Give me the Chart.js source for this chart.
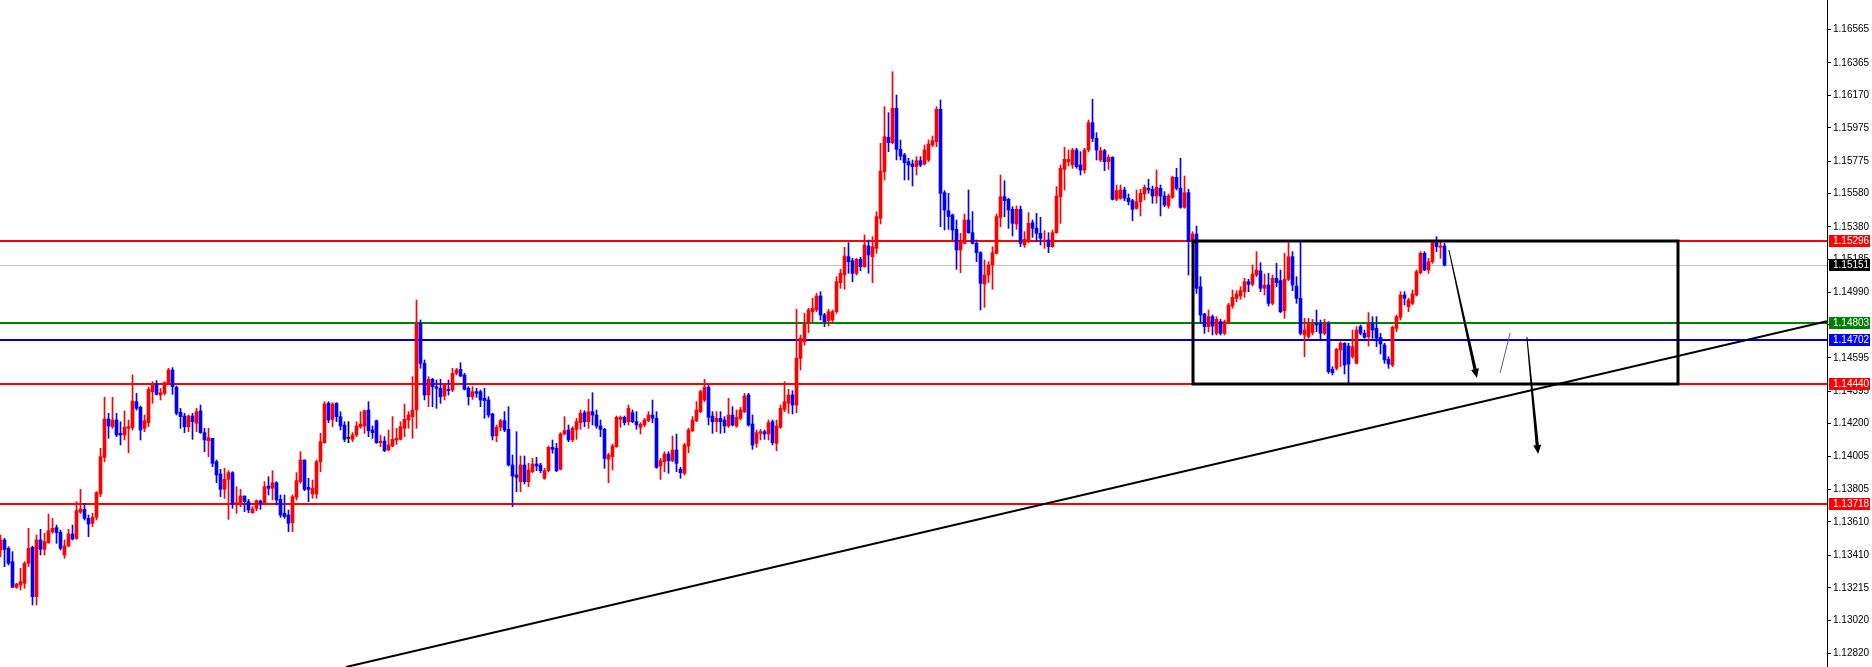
<!DOCTYPE html>
<html>
<head>
<meta charset="utf-8">
<script src="https://cdn.jsdelivr.net/npm/chart.js@4.4.0/dist/chart.umd.min.js"></script>
<style>
  html, body { margin: 0; padding: 0; background: #fff; }
  canvas { display: block; }
</style>
</head>
<body>
<canvas id="priceChart" width="1872" height="667"></canvas>
<script>
// OHLC, one candle per bar, oldest first
const opens = [
  1.13442,1.13502,1.13452,1.13372,1.13218,1.13232,1.13242,1.13362,1.13458,1.13162,
  1.13502,1.13446,1.13486,1.13552,1.13576,1.13548,1.13412,1.13466,1.13538,1.13512,
  1.13668,1.13686,1.13632,1.13602,1.13638,1.13778,1.13998,1.14228,1.14182,1.14222,
  1.14142,1.14132,1.14172,1.14176,1.14332,1.14298,1.14172,1.14206,1.14392,1.14438,
  1.14372,1.14382,1.14442,1.14522,1.14418,1.14268,1.14246,1.14182,1.14246,1.14202,
  1.14276,1.14146,1.14098,1.14112,1.13972,1.13898,1.13806,1.13866,1.13906,1.13718,
  1.13726,1.13766,1.13732,1.13666,1.13692,1.13736,1.13726,1.13826,1.13812,1.13846,
  1.13746,1.13662,1.13652,1.13606,1.13758,1.13852,1.13982,1.13818,1.13778,1.13778,
  1.13972,1.14086,1.14322,1.14226,1.14322,1.14242,1.14192,1.14112,1.14106,1.14132,
  1.14182,1.14186,1.14282,1.14162,1.14218,1.14086,1.14096,1.14042,1.14066,1.14102,
  1.14106,1.14172,1.14222,1.14242,1.14282,1.14802,1.14562,1.14372,1.14466,1.14422,
  1.14412,1.14366,1.14406,1.14402,1.14502,1.14526,1.14492,1.14412,1.14362,1.14392,
  1.14392,1.14352,1.14342,1.14258,1.14128,1.14178,1.14218,1.14166,1.13952,1.13892,
  1.13852,1.13952,1.13852,1.13912,1.13958,1.13952,1.13872,1.13918,1.14058,1.14052,
  1.13926,1.14138,1.14162,1.14102,1.14166,1.14206,1.14266,1.14212,1.14272,1.14252,
  1.14186,1.14166,1.13986,1.14002,1.14062,1.14226,1.14238,1.14212,1.14266,1.14212,
  1.14178,1.14192,1.14218,1.14252,1.14232,1.13946,1.13972,1.14018,1.13978,1.14042,
  1.13926,1.13902,1.14066,1.14158,1.14218,1.14272,1.14342,1.14418,1.14246,1.14212,
  1.14232,1.14222,1.14186,1.14252,1.14186,1.14232,1.14272,1.14372,1.14198,1.14082,
  1.14142,1.14152,1.14138,1.14212,1.14082,1.14178,1.14286,1.14322,1.14372,1.14312,
  1.14592,1.14692,1.14812,1.14872,1.14882,1.14966,1.14852,1.14818,1.14822,1.14872,
  1.15046,1.15092,1.15202,1.15178,1.15102,1.15186,1.15142,1.15266,1.15202,1.15252,
  1.15432,1.15712,1.15918,1.15886,1.16092,1.15846,1.15812,1.15772,1.15758,1.15742,
  1.15778,1.15758,1.15782,1.15872,1.15892,1.16086,1.15586,1.15478,1.15452,1.15366,
  1.15242,1.15282,1.15422,1.15346,1.15282,1.15226,1.15038,1.15092,1.15152,1.15222,
  1.15438,1.15562,1.15546,1.15486,1.15398,1.15486,1.15272,1.15292,1.15406,1.15372,
  1.15342,1.15292,1.15302,1.15262,1.15346,1.15562,1.15726,1.15772,1.15752,1.15842,
  1.15752,1.15722,1.15842,1.16006,1.15912,1.15782,1.15838,1.15772,1.15798,1.15546,
  1.15552,1.15602,1.15552,1.15538,1.15492,1.15532,1.15578,1.15612,1.15606,1.15566,
  1.15612,1.15566,1.15506,1.15558,1.15678,1.15612,1.15498,1.15586,1.15292,1.15338,
  1.15022,1.14858,1.14782,1.14842,1.14742,1.14812,1.14742,1.14812,1.14906,1.14952,
  1.14966,1.14992,1.15052,1.15036,1.15092,1.15116,1.15012,1.15032,1.14922,1.15072,
  1.15058,1.14878,1.15066,1.15202,1.15026,1.14952,1.14732,1.14722,1.14746,1.14802,
  1.14798,1.14742,1.14798,1.14526,1.14532,1.14642,1.14682,1.14666,1.14602,1.14562,
  1.14782,1.14742,1.14722,1.14798,1.14772,1.14718,1.14672,1.14586,1.14552,1.14772,
  1.14838,1.14972,1.14902,1.14922,1.14972,1.15106,1.15222,1.15122,1.15172,1.15286,
  1.15258,1.15266
];
const highs = [
  1.13532,1.13512,1.13462,1.13432,1.13242,1.13332,1.13372,1.13572,1.13466,1.13532,
  1.13566,1.13542,1.13658,1.13632,1.13592,1.13562,1.13502,1.13566,1.13592,1.13732,
  1.13806,1.13722,1.13652,1.13662,1.13792,1.14052,1.14358,1.14262,1.14358,1.14262,
  1.14212,1.14276,1.14222,1.14492,1.14382,1.14306,1.14252,1.14418,1.14452,1.14458,
  1.14412,1.14452,1.14532,1.14536,1.14426,1.14292,1.14262,1.14252,1.14262,1.14292,
  1.14312,1.14172,1.14172,1.14112,1.13982,1.13926,1.13932,1.13918,1.13912,1.13822,
  1.13806,1.13766,1.13746,1.13702,1.13742,1.13742,1.13852,1.13882,1.13918,1.13852,
  1.13772,1.13772,1.13682,1.13772,1.13906,1.14032,1.13982,1.13872,1.13862,1.13982,
  1.14142,1.14332,1.14332,1.14326,1.14326,1.14272,1.14212,1.14212,1.14146,1.14212,
  1.14272,1.14282,1.14332,1.14186,1.14222,1.14132,1.14122,1.14162,1.14242,1.14172,
  1.14212,1.14318,1.14272,1.14482,1.14942,1.14822,1.14582,1.14482,1.14472,1.14462,
  1.14466,1.14442,1.14462,1.14532,1.14532,1.14566,1.14502,1.14422,1.14422,1.14412,
  1.14402,1.14412,1.14362,1.14262,1.14192,1.14226,1.14272,1.14302,1.14012,1.14152,
  1.14006,1.14006,1.13962,1.13992,1.13998,1.13962,1.13932,1.14066,1.14102,1.14082,
  1.14146,1.14242,1.14192,1.14182,1.14232,1.14282,1.14278,1.14346,1.14386,1.14282,
  1.14222,1.14172,1.14022,1.14078,1.14246,1.14246,1.14246,1.14312,1.14282,1.14272,
  1.14206,1.14232,1.14272,1.14342,1.14272,1.13992,1.14032,1.14032,1.14126,1.14138,
  1.13938,1.14082,1.14172,1.14242,1.14332,1.14402,1.14466,1.14432,1.14272,1.14272,
  1.14272,1.14242,1.14352,1.14302,1.14282,1.14298,1.14382,1.14382,1.14252,1.14162,
  1.14166,1.14162,1.14222,1.14222,1.14222,1.14312,1.14452,1.14406,1.14398,1.14886,
  1.14732,1.14862,1.14892,1.14952,1.14982,1.14992,1.14862,1.14886,1.14882,1.15082,
  1.15126,1.15258,1.15286,1.15192,1.15192,1.15198,1.15332,1.15302,1.15322,1.15472,
  1.15882,1.16102,1.16066,1.16312,1.16172,1.15902,1.15822,1.15792,1.15782,1.15802,
  1.15802,1.15872,1.15902,1.15926,1.16102,1.16142,1.15598,1.15582,1.15458,1.15422,
  1.15342,1.15458,1.15602,1.15472,1.15302,1.15232,1.15182,1.15172,1.15262,1.15458,
  1.15692,1.15658,1.15552,1.15502,1.15506,1.15506,1.15352,1.15466,1.15422,1.15462,
  1.15438,1.15358,1.15346,1.15362,1.15622,1.15752,1.15858,1.15842,1.15852,1.15852,
  1.15832,1.15852,1.16022,1.16146,1.15946,1.15858,1.15846,1.15812,1.15802,1.15632,
  1.15632,1.15618,1.15578,1.15546,1.15602,1.15606,1.15632,1.15666,1.15626,1.15722,
  1.15632,1.15592,1.15578,1.15686,1.15732,1.15792,1.15686,1.15606,1.15352,1.15386,
  1.15082,1.14862,1.14882,1.14852,1.14842,1.14826,1.14822,1.14922,1.15002,1.14998,
  1.15022,1.15072,1.15066,1.15152,1.15232,1.15166,1.15098,1.15102,1.15092,1.15162,
  1.15122,1.15222,1.15286,1.15232,1.15082,1.15292,1.14832,1.14832,1.14826,1.14882,
  1.14822,1.14826,1.14812,1.14542,1.14652,1.14692,1.14686,1.14682,1.14762,1.14782,
  1.14792,1.14762,1.14866,1.14842,1.14842,1.14742,1.14682,1.14602,1.14786,1.14852,
  1.14992,1.14992,1.14952,1.15002,1.15122,1.15232,1.15232,1.15192,1.15298,1.15322,
  1.15292,1.15282
];
const lows = [
  1.13402,1.13342,1.13352,1.13218,1.13212,1.13202,1.13212,1.13342,1.13112,1.13112,
  1.13412,1.13412,1.13482,1.13542,1.13482,1.13442,1.13392,1.13462,1.13502,1.13506,
  1.13662,1.13622,1.13522,1.13582,1.13622,1.13762,1.13972,1.14112,1.14172,1.14122,
  1.14072,1.14102,1.14026,1.14162,1.14282,1.14102,1.14152,1.14182,1.14322,1.14372,
  1.14342,1.14372,1.14432,1.14376,1.14252,1.14172,1.14146,1.14152,1.14106,1.14152,
  1.14142,1.14032,1.14002,1.13942,1.13846,1.13762,1.13752,1.13626,1.13692,1.13662,
  1.13702,1.13672,1.13666,1.13662,1.13678,1.13686,1.13718,1.13772,1.13742,1.13712,
  1.13638,1.13632,1.13552,1.13552,1.13742,1.13842,1.13798,1.13732,1.13752,1.13752,
  1.13912,1.14082,1.14206,1.14182,1.14212,1.14162,1.14092,1.14086,1.14092,1.14122,
  1.14172,1.14142,1.14122,1.14112,1.14082,1.14062,1.14032,1.14038,1.14062,1.14076,
  1.14102,1.14122,1.14172,1.14112,1.14172,1.14532,1.14342,1.14302,1.14302,1.14292,
  1.14322,1.14342,1.14372,1.14392,1.14492,1.14482,1.14402,1.14312,1.14346,1.14358,
  1.14302,1.14232,1.14238,1.14102,1.14092,1.14158,1.14152,1.13946,1.13702,1.13792,
  1.13792,1.13838,1.13822,1.13906,1.13918,1.13906,1.13866,1.13912,1.14022,1.13912,
  1.13922,1.14132,1.14092,1.14092,1.14106,1.14166,1.14182,1.14172,1.14192,1.14172,
  1.14122,1.13932,1.13846,1.13922,1.14058,1.14178,1.14192,1.14192,1.14206,1.14166,
  1.14138,1.14182,1.14212,1.14206,1.13932,1.13866,1.13912,1.13902,1.13972,1.13912,
  1.13872,1.13892,1.14026,1.14152,1.14212,1.14266,1.14332,1.14192,1.14142,1.14152,
  1.14142,1.14146,1.14178,1.14186,1.14178,1.14222,1.14266,1.14186,1.14046,1.14058,
  1.14102,1.14106,1.14102,1.14072,1.14038,1.14172,1.14272,1.14262,1.14258,1.14266,
  1.14522,1.14672,1.14746,1.14812,1.14872,1.14822,1.14782,1.14786,1.14802,1.14862,
  1.15012,1.15006,1.15102,1.15052,1.15092,1.15118,1.15138,1.15102,1.15046,1.15222,
  1.15398,1.15662,1.15832,1.15878,1.15782,1.15782,1.15662,1.15662,1.15626,1.15692,
  1.15742,1.15752,1.15772,1.15862,1.15862,1.15382,1.15362,1.15366,1.15302,1.15126,
  1.15106,1.15278,1.15342,1.15278,1.15172,1.14882,1.14898,1.15046,1.15006,1.15218,
  1.15382,1.15442,1.15372,1.15326,1.15366,1.15262,1.15258,1.15286,1.15318,1.15292,
  1.15272,1.15252,1.15226,1.15258,1.15342,1.15402,1.15602,1.15746,1.15732,1.15732,
  1.15692,1.15702,1.15832,1.15892,1.15782,1.15772,1.15718,1.15726,1.15542,1.15538,
  1.15546,1.15538,1.15512,1.15418,1.15486,1.15446,1.15542,1.15582,1.15522,1.15522,
  1.15446,1.15502,1.15492,1.15552,1.15602,1.15492,1.15492,1.15092,1.15278,1.14982,
  1.14802,1.14742,1.14752,1.14732,1.14732,1.14732,1.14732,1.14798,1.14892,1.14932,
  1.14946,1.14958,1.14992,1.15026,1.15082,1.14992,1.14972,1.14906,1.14912,1.15022,
  1.14866,1.14832,1.15058,1.14998,1.14922,1.14732,1.14602,1.14712,1.14732,1.14752,
  1.14706,1.14732,1.14502,1.14492,1.14522,1.14542,1.14498,1.14446,1.14592,1.14558,
  1.14732,1.14712,1.14666,1.14712,1.14662,1.14618,1.14562,1.14532,1.14542,1.14752,
  1.14822,1.14912,1.14872,1.14912,1.14966,1.15098,1.15118,1.15102,1.15162,1.15232,
  1.15192,1.15146
];
const closes = [
  1.13502,1.13446,1.13362,1.13218,1.13238,1.13252,1.13362,1.13452,1.13162,1.13502,
  1.13446,1.13492,1.13558,1.13572,1.13546,1.13452,1.13466,1.13538,1.13508,1.13678,
  1.13688,1.13632,1.13598,1.13638,1.13786,1.14002,1.14228,1.14186,1.14222,1.14132,
  1.14132,1.14178,1.14182,1.14336,1.14292,1.14162,1.14218,1.14406,1.14436,1.14376,
  1.14386,1.14446,1.14522,1.14422,1.14262,1.14242,1.14182,1.14246,1.14212,1.14272,
  1.14146,1.14102,1.14116,1.13962,1.13892,1.13806,1.13866,1.13906,1.13718,1.13726,
  1.13766,1.13732,1.13682,1.13688,1.13738,1.13722,1.13822,1.13812,1.13846,1.13742,
  1.13652,1.13642,1.13602,1.13762,1.13858,1.13982,1.13806,1.13806,1.13812,1.13972,
  1.14092,1.14318,1.14222,1.14318,1.14242,1.14186,1.14106,1.14112,1.14132,1.14186,
  1.14198,1.14278,1.14158,1.14146,1.14086,1.14094,1.14038,1.14072,1.14106,1.14112,
  1.14182,1.14226,1.14252,1.14282,1.14802,1.14562,1.14372,1.14466,1.14422,1.14412,
  1.14362,1.14442,1.14398,1.14502,1.14522,1.14486,1.14406,1.14362,1.14392,1.14382,
  1.14342,1.14338,1.14252,1.14126,1.14178,1.14218,1.14162,1.13952,1.13886,1.13878,
  1.13952,1.13852,1.13922,1.13958,1.13946,1.13918,1.13918,1.14058,1.14046,1.13918,
  1.14138,1.14158,1.14102,1.14172,1.14212,1.14262,1.14212,1.14272,1.14252,1.14186,
  1.14166,1.13992,1.14012,1.14066,1.14238,1.14238,1.14206,1.14292,1.14212,1.14192,
  1.14196,1.14222,1.14252,1.14232,1.13938,1.13978,1.14018,1.13978,1.14042,1.13962,
  1.13906,1.14072,1.14162,1.14222,1.14282,1.14392,1.14418,1.14238,1.14212,1.14232,
  1.14212,1.14186,1.14252,1.14192,1.14238,1.14282,1.14366,1.14192,1.14072,1.14146,
  1.14152,1.14138,1.14206,1.14086,1.14186,1.14292,1.14332,1.14372,1.14312,1.14592,
  1.14712,1.14802,1.14882,1.14892,1.14966,1.14852,1.14812,1.14872,1.14872,1.15052,
  1.15102,1.15206,1.15172,1.15102,1.15186,1.15142,1.15272,1.15212,1.15262,1.15442,
  1.15716,1.15922,1.15886,1.16092,1.15846,1.15806,1.15766,1.15752,1.15742,1.15778,
  1.15752,1.15842,1.15878,1.15898,1.16086,1.15582,1.15482,1.15442,1.15362,1.15242,
  1.15292,1.15422,1.15346,1.15282,1.15226,1.15042,1.15092,1.15152,1.15226,1.15442,
  1.15562,1.15538,1.15482,1.15402,1.15486,1.15282,1.15306,1.15402,1.15372,1.15342,
  1.15312,1.15302,1.15262,1.15346,1.15566,1.15732,1.15786,1.15786,1.15842,1.15742,
  1.15722,1.15842,1.16006,1.15912,1.15842,1.15838,1.15772,1.15798,1.15546,1.15598,
  1.15602,1.15552,1.15532,1.15486,1.15532,1.15582,1.15618,1.15602,1.15566,1.15618,
  1.15566,1.15512,1.15566,1.15678,1.15612,1.15498,1.15586,1.15292,1.15338,1.15012,
  1.14852,1.14782,1.14842,1.14786,1.14826,1.14742,1.14812,1.14912,1.14958,1.14978,
  1.14998,1.15052,1.15036,1.15098,1.15122,1.15012,1.15032,1.14922,1.15072,1.15046,
  1.14872,1.15066,1.15202,1.15032,1.14952,1.14742,1.14762,1.14802,1.14798,1.14792,
  1.14742,1.14802,1.14512,1.14506,1.14646,1.14682,1.14552,1.14558,1.14662,1.14762,
  1.14742,1.14718,1.14802,1.14762,1.14712,1.14678,1.14582,1.14558,1.14778,1.14842,
  1.14972,1.14952,1.14942,1.14978,1.15112,1.15222,1.15122,1.15172,1.15286,1.15262,
  1.15266,1.15152
];

// price scale labels shown on the right
const tickLabels = [1.16565, 1.16365, 1.16170, 1.15975, 1.15775, 1.15580, 1.15380, 1.15185,
  1.14990, 1.14795, 1.14595, 1.14395, 1.14200, 1.14005, 1.13805, 1.13610, 1.13410,
  1.13215, 1.13020, 1.12820];

// horizontal levels (price)
const levels = [1.15296, 1.15151, 1.14803, 1.14702, 1.14440, 1.13718];

// drawn objects, [bar index, price]
const rangeBox = [[298.1, 1.15296], [419.25, 1.14440]];
const trendLine = [[86.4, 1.12740], [456.6, 1.14814]];
const arrowLines = [
  [[362.1, 1.15242], [369.1, 1.14474]],
  [[381.6, 1.14720], [384.4, 1.14018]]
];
const thinLine = [[374.9, 1.14504], [377.4, 1.14744]];

// styles
const UP = '#ff0000', DOWN = '#0000ff', DOJI = '#000000';
const levelLine = [
  { color: '#ff0000', width: 2, tag: '#ff0000' },
  { color: '#c0c0c0', width: 1, tag: '#000000' },
  { color: '#008000', width: 2, tag: '#008000' },
  { color: '#0000c8', width: 2, tag: '#0000ff' },
  { color: '#ff0000', width: 2, tag: '#ff0000' },
  { color: '#ff0000', width: 2, tag: '#ff0000' }
];

const idx = closes.map((c, i) => i);
const candleColors = idx.map(i => closes[i] > opens[i] ? UP : (closes[i] < opens[i] ? DOWN : DOJI));

function taperArrow(ctx, x1, y1, x2, y2) {
  const dx = x2 - x1, dy = y2 - y1, len = Math.hypot(dx, dy);
  const ux = dx / len, uy = dy / len, nx = -uy, ny = ux;
  const head = 9, w1 = 1, w2 = 3.2, hw = 4;
  const bx = x2 - ux * head, by = y2 - uy * head;
  ctx.beginPath();
  ctx.moveTo(x1 + nx * w1 / 2, y1 + ny * w1 / 2);
  ctx.lineTo(bx + nx * w2 / 2, by + ny * w2 / 2);
  ctx.lineTo(bx + nx * hw, by + ny * hw);
  ctx.lineTo(x2, y2);
  ctx.lineTo(bx - nx * hw, by - ny * hw);
  ctx.lineTo(bx - nx * w2 / 2, by - ny * w2 / 2);
  ctx.lineTo(x1 - nx * w1 / 2, y1 - ny * w1 / 2);
  ctx.closePath();
  ctx.fill();
}

const drawings = {
  id: 'drawings',
  beforeDatasetsDraw(chart) {
    const { ctx, chartArea: a, scales: { y } } = chart;
    ctx.save();
    levels.forEach((v, k) => {
      const st = levelLine[k];
      const yy = Math.round(y.getPixelForValue(v)) + (st.width % 2 ? 0.5 : 0);
      ctx.strokeStyle = st.color;
      ctx.lineWidth = st.width;
      ctx.beginPath();
      ctx.moveTo(a.left, yy);
      ctx.lineTo(a.right, yy);
      ctx.stroke();
    });
    ctx.restore();
  },
  afterDatasetsDraw(chart) {
    const { ctx, chartArea: a, scales: { x, y } } = chart;
    const P = p => [x.getPixelForValue(p[0]), y.getPixelForValue(p[1])];
    ctx.save();
    ctx.beginPath();
    ctx.rect(a.left, a.top, a.right - a.left, a.bottom - a.top);
    ctx.clip();

    // range box
    const b0 = P(rangeBox[0]), b1 = P(rangeBox[1]);
    ctx.strokeStyle = '#000';
    ctx.lineWidth = 3;
    ctx.strokeRect(Math.round(b0[0]), Math.round(b0[1]), Math.round(b1[0] - b0[0]), Math.round(b1[1] - b0[1]));

    // trend line
    const t0 = P(trendLine[0]), t1 = P(trendLine[1]);
    ctx.lineWidth = 2;
    ctx.beginPath();
    ctx.moveTo(t0[0], t0[1]);
    ctx.lineTo(t1[0], t1[1]);
    ctx.stroke();

    // thin sketch line
    const s0 = P(thinLine[0]), s1 = P(thinLine[1]);
    ctx.strokeStyle = '#606060';
    ctx.lineWidth = 1;
    ctx.beginPath();
    ctx.moveTo(s0[0], s0[1]);
    ctx.lineTo(s1[0], s1[1]);
    ctx.stroke();

    // arrows
    ctx.fillStyle = '#000';
    arrowLines.forEach(seg => {
      const p0 = P(seg[0]), p1 = P(seg[1]);
      taperArrow(ctx, p0[0], p0[1], p1[0], p1[1]);
    });
    ctx.restore();
  },
  afterDraw(chart) {
    const { ctx, chartArea: a, scales: { y } } = chart;
    ctx.save();
    ctx.font = '10px "Liberation Sans", Arial, sans-serif';
    ctx.textBaseline = 'middle';
    ctx.textAlign = 'left';
    levels.forEach((v, k) => {
      const yy = Math.round(y.getPixelForValue(v));
      ctx.fillStyle = levelLine[k].tag;
      ctx.fillRect(a.right + 2, yy - 6, 41, 12);
      ctx.fillStyle = '#fff';
      ctx.fillText(v.toFixed(5), a.right + 6, yy + 0.5);
    });
    ctx.restore();
  }
};

new Chart(document.getElementById('priceChart').getContext('2d'), {
  type: 'bar',
  data: {
    datasets: [
      {
        label: 'wick',
        data: idx.map(i => ({ x: i, y: [lows[i], highs[i]] })),
        backgroundColor: candleColors,
        barThickness: 1,
        grouped: false,
        order: 2
      },
      {
        label: 'body',
        data: idx.map(i => ({ x: i, y: [opens[i], closes[i]] })),
        backgroundColor: candleColors,
        barThickness: 3,
        minBarLength: 1,
        grouped: false,
        order: 1
      }
    ]
  },
  options: {
    responsive: false,
    animation: false,
    devicePixelRatio: 1,
    layout: { padding: 0 },
    plugins: { legend: { display: false }, tooltip: { enabled: false } },
    scales: {
      x: {
        type: 'linear',
        display: false,
        offset: false,
        min: -0.125,
        max: 456.625
      },
      y: {
        position: 'right',
        min: 1.12740,
        max: 1.16742,
        border: { display: true, color: '#000', width: 1 },
        grid: { drawOnChartArea: false, drawTicks: true, tickLength: 4, color: '#000' },
        ticks: {
          color: '#000',
          padding: 2,
          font: { family: '"Liberation Sans", Arial, sans-serif', size: 10 },
          callback: v => Number(v).toFixed(5)
        },
        afterBuildTicks: s => { s.ticks = tickLabels.map(v => ({ value: v })); },
        afterFit: s => { s.width = 45; s.paddingTop = 0; s.paddingBottom = 0; }
      }
    }
  },
  plugins: [drawings]
});
</script>
</body>
</html>
